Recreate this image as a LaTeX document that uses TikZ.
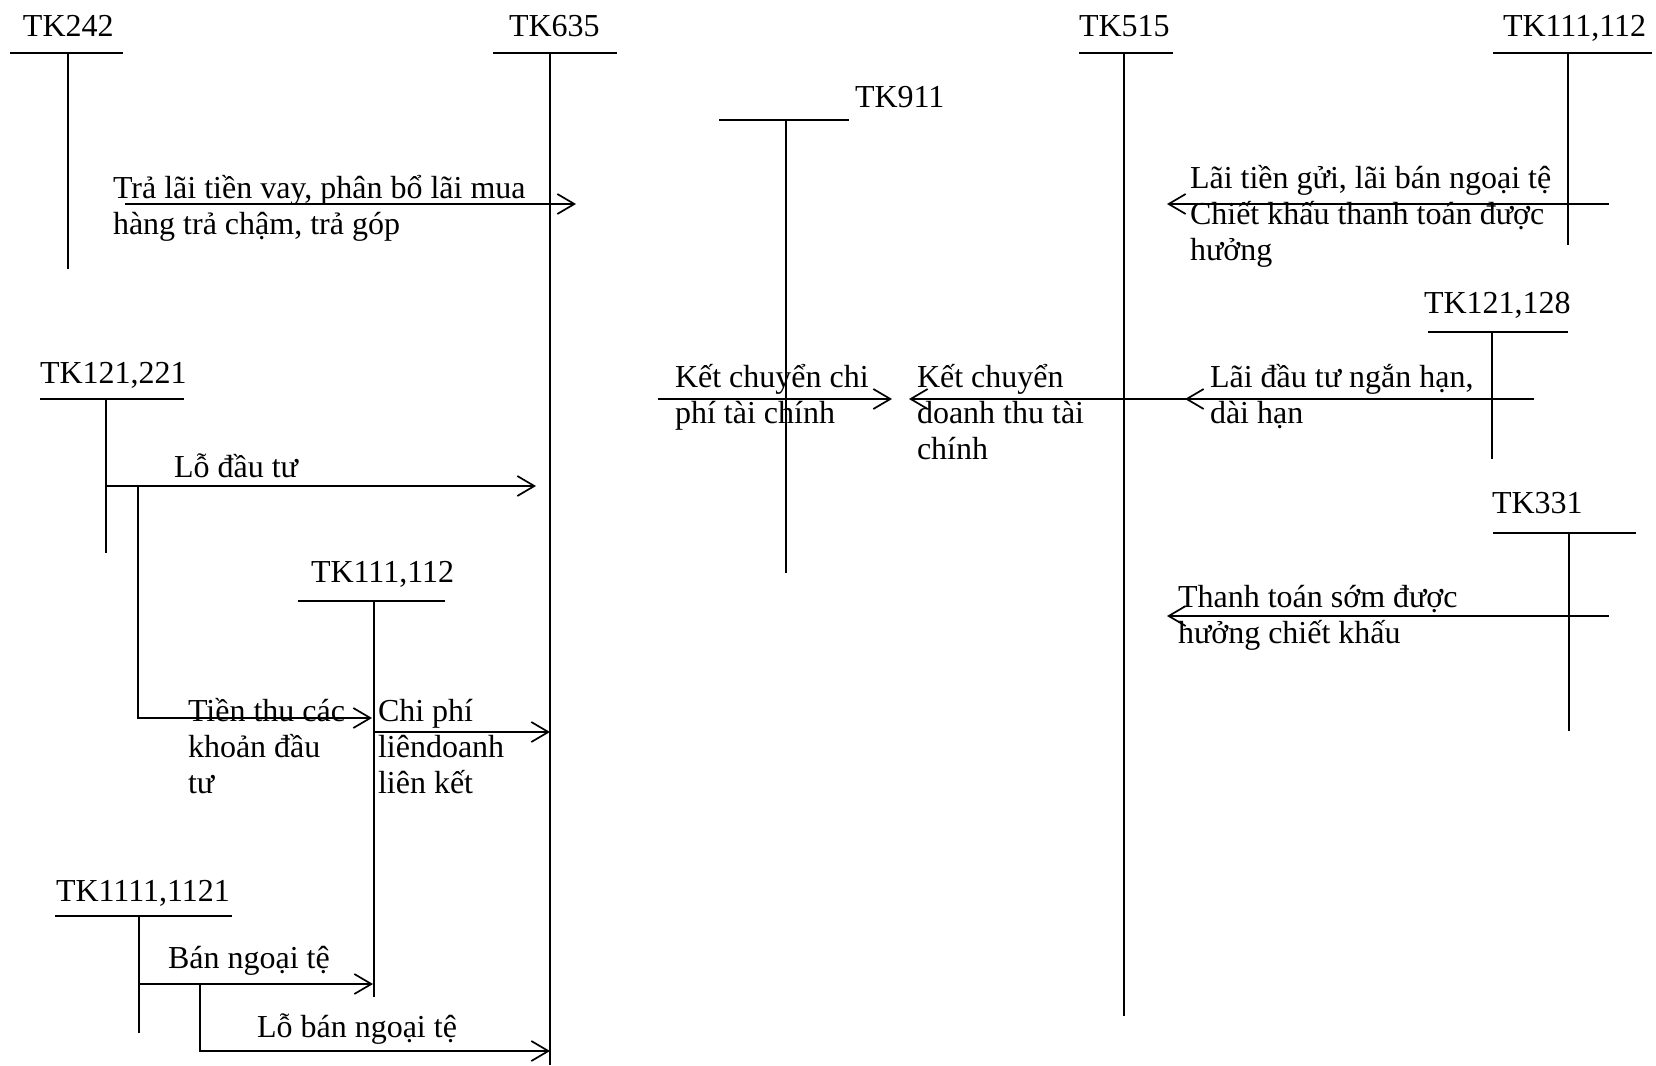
\documentclass[tikz,border=0pt]{standalone}
\usepackage{fontspec}
\setmainfont{Liberation Serif}
\usetikzlibrary{arrows.meta}
\newcommand\tlines[1]{\vtop{\halign{##\hfil\cr#1\crcr}}}
\begin{document}
\begin{tikzpicture}[x=1pt,y=-1pt,
  every node/.style={inner sep=0pt,outer sep=0pt,font=\fontsize{32}{36}\selectfont},
  lbl/.style={anchor=base west},
  acct/.style={line width=1.7pt},
  flow/.style={line width=1.7pt,-{Straight Barb[length=17pt,width=20pt,line width=1.7pt]}}]
\useasboundingbox[fill=white] (0,0) rectangle (1656,1065);

% ---- T-account headers ----
\node[lbl] (h242) at (23,37) {TK242};
\draw[acct] (10,53) coordinate (b242a) -- (123,53) coordinate (b242b);
\draw[acct] (68,53) coordinate (v242t) -- (68,269) coordinate (v242b);

\node[lbl] (h635) at (509,37) {TK635};
\draw[acct] (493,53) coordinate (b635a) -- (617,53) coordinate (b635b);
\draw[acct] (550,53) coordinate (v635t) -- (550,1065) coordinate (v635b);

\node[lbl] (h515) at (1079,37) {TK515};
\draw[acct] (1079,53) coordinate (b515a) -- (1173,53) coordinate (b515b);
\draw[acct] (1124,53) coordinate (v515t) -- (1124,1016) coordinate (v515b);

\node[lbl] (h111r) at (1503,37) {TK111,112};
\draw[acct] (1493,53) coordinate (b111ra) -- (1652,53) coordinate (b111rb);
\draw[acct] (1568,53) coordinate (v111rt) -- (1568,245) coordinate (v111rb);

\node[lbl] (h911) at (855,107) {TK911};
\draw[acct] (719,120) coordinate (b911a) -- (849,120) coordinate (b911b);
\draw[acct] (786,120) coordinate (v911t) -- (786,573) coordinate (v911b);

\node[lbl] (h128) at (1424,313) {TK121,128};
\draw[acct] (1428,332) coordinate (b128a) -- (1568,332) coordinate (b128b);
\draw[acct] (1492,332) coordinate (v128t) -- (1492,459) coordinate (v128b);

\node[lbl] (h331) at (1492,513) {TK331};
\draw[acct] (1493,533) coordinate (b331a) -- (1636,533) coordinate (b331b);
\draw[acct] (1569,533) coordinate (v331t) -- (1569,731) coordinate (v331b);

\node[lbl] (h221) at (40,383) {TK121,221};
\draw[acct] (40,399) coordinate (b221a) -- (184,399) coordinate (b221b);
\draw[acct] (106,399) coordinate (v221t) -- (106,553) coordinate (v221b);

\node[lbl] (h111m) at (311,582) {TK111,112};
\draw[acct] (298,601) coordinate (b111ma) -- (445,601) coordinate (b111mb);
\draw[acct] (374,601) coordinate (v111mt) -- (374,997) coordinate (v111mb);

\node[lbl] (h1121) at (56,901) {TK1111,1121};
\draw[acct] (55,916) coordinate (b1121a) -- (232,916) coordinate (b1121b);
\draw[acct] (139,916) coordinate (v1121t) -- (139,1033) coordinate (v1121b);

% ---- flow end points ----
\coordinate (a1s) at (125,204);   \coordinate (a1e) at (576,204);
\coordinate (a2s) at (1609,204);  \coordinate (a2e) at (1167,204);
\coordinate (a3s) at (1534,399);  \coordinate (a3e) at (1185,399);
\coordinate (a4s) at (1230,399);  \coordinate (a4e) at (909,399);
\coordinate (a5s) at (658,399);   \coordinate (a5e) at (892,399);
\coordinate (a6s) at (1609,616);  \coordinate (a6e) at (1167,616);
\coordinate (a7s) at (106,486);   \coordinate (a7e) at (536,486);
\coordinate (a8s) at (138,486);   \coordinate (a8e) at (372,718);
\coordinate (a9s) at (374,732);   \coordinate (a9e) at (550,732);
\coordinate (a10s) at (139,984);  \coordinate (a10e) at (373,984);
\coordinate (a11s) at (200,984);  \coordinate (a11e) at (550,1051);

% ---- flows ----
\draw[flow] (a1s) -- (a1e);
\draw[flow] (a2s) -- (a2e);
\draw[flow] (a3s) -- (a3e);
\draw[flow] (a4s) -- (a4e);
\draw[flow] (a5s) -- (a5e);
\draw[flow] (a6s) -- (a6e);
\draw[flow] (a7s) -- (a7e);
\draw[flow] (a8s) |- (a8e);
\draw[flow] (a9s) -- (a9e);
\draw[flow] (a10s) -- (a10e);
\draw[flow] (a11s) |- (a11e);

% ---- labels ----
\node[lbl] (t1) at (113,198) {\tlines{Trả lãi tiền vay, phân bổ lãi mua\cr hàng trả chậm, trả góp}};
\node[lbl] (t2) at (1190,188) {\tlines{Lãi tiền gửi, lãi bán ngoại tệ\cr Chiết khấu thanh toán được\cr hưởng}};
\node[lbl] (t3) at (1210,387) {\tlines{Lãi đầu tư ngắn hạn,\cr dài hạn}};
\node[lbl] (t4) at (917,387) {\tlines{Kết chuyển\cr doanh thu tài\cr chính}};
\node[lbl] (t5) at (675,387) {\tlines{Kết chuyển chi\cr phí tài chính}};
\node[lbl] (t6) at (1178,607) {\tlines{Thanh toán sớm được\cr hưởng chiết khấu}};
\node[lbl] (t7) at (174,477) {Lỗ đầu tư};
\node[lbl] (t8) at (188,721) {\tlines{Tiền thu các\cr khoản đầu\cr tư}};
\node[lbl] (t9) at (378,721) {\tlines{Chi phí\cr liêndoanh\cr liên kết}};
\node[lbl] (t10) at (168,968) {Bán ngoại tệ};
\node[lbl] (t11) at (257,1037) {Lỗ bán ngoại tệ};
\end{tikzpicture}
\end{document}
